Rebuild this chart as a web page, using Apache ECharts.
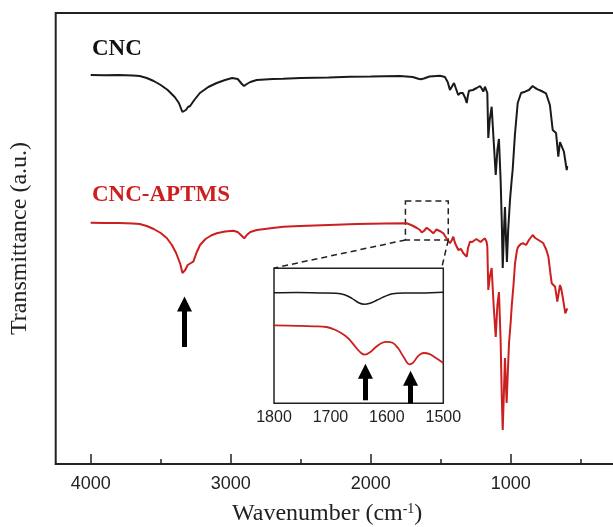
<!DOCTYPE html>
<html><head><meta charset="utf-8">
<script src="https://cdn.jsdelivr.net/npm/echarts@6/dist/echarts.min.js"></script>
<style>html,body{margin:0;padding:0;background:#fff}#c{width:613px;height:527px}</style>
</head><body><div id="c"></div>
<script>
// Main spectra (wavenumber in cm-1, transmittance in arbitrary units)
const cncWn = [4000,3900,3800,3700,3650,3600,3550,3500,3450,3400,3370,3345,3335,3320,3305,3290,3260,3220,3160,3100,3040,2990,2950,2920,2905,2885,2860,2814,2700,2626,2500,2300,2148,2000,1900,1791,1700,1660,1643,1620,1580,1505,1470,1450,1434,1420,1405,1390,1375,1360,1342,1325,1314,1306,1298,1270,1243,1230,1219,1205,1196,1184,1172,1167,1160,1150,1136,1122,1107,1095,1084,1072,1064,1057,1048,1041,1033,1027,1018,1005,993,986,970,950,926,898,870,843,825,807,780,748,720,700,676,660,648,638,620,600,596];
const cncT = [389,388.7,389,388.5,388,386,383,379,374,367,361,352,350,354,357,358,364,371,377,381,384,386,385,380,378,380,382,384,385,385.3,386,386.5,387.3,387.5,387.8,388,387,385.2,384.7,385.5,387.5,388.3,387,382,374,376,381,375,369,371,371,366,361,368,373.3,374,376,376.5,378,375,372.3,377.3,376,371,326,344,357.3,324,289,314,325,284,244,196,234,257,224,202,234,264,284,294,329,361,371,372.3,374,378,376,374.7,373,370.7,359,334,331,307.3,322,322.3,312.3,294,298];
const aptmsWn = [4000,3900,3800,3700,3650,3600,3550,3500,3457,3420,3390,3360,3345,3338,3325,3307,3290,3267,3245,3219,3180,3140,3100,3040,2981,2950,2920,2903,2885,2860,2814,2700,2624,2505,2300,2100,1900,1743,1720,1696,1670,1648,1636,1620,1600,1575,1553,1530,1500,1481,1460,1446,1434,1420,1410,1398,1386,1374,1355,1338,1325,1314,1305,1291,1275,1262,1245,1232,1215,1200,1184,1172,1167,1160,1148,1136,1122,1107,1095,1084,1072,1064,1057,1048,1041,1034,1029,1020,1012,1000,993,980,969,955,946,928,910,890,870,843,825,814,790,767,745,731,715,707,683,667,648,640,629,610,596];
const aptmsT = [241.3,241,241,240.5,240,238,235,231,226,219,211,200,191,189,194,199,200.5,202.3,211,219,225,228.5,230.7,232.5,233.3,232,228,225.7,229,232,234,236,237.3,238,239,240,240.5,240.7,239.5,238,236,234,231.5,233,236.3,233.5,230.7,234.5,232.5,230.7,226,224,220.7,224,227.3,221,219,214,215,210.7,212,207.3,216,222.3,222,221,225,224,222,224,225.7,222,217.3,174,188,196,159,127,159,172,124,69,34,74,106,79,61,94,121,142,157.3,179,200.7,214,217.3,220,220.7,219,224,229,226,224,223,220.7,214,207.3,189,180.7,177.3,162.3,179,176,167.3,150.7,155.7];

// Inset (1800-1500 cm-1)
const insetCncWn = [1800,1760,1720,1690,1675,1662,1650,1640,1630,1618,1605,1590,1570,1540,1500];
const insetCncT = [110.5,110.8,110.4,110,108.5,105,100.5,99,100,103,106.5,109.5,110.3,110.2,111];
const insetApWn = [1800,1760,1730,1707,1690,1675,1665,1655,1645,1639,1630,1620,1610,1600,1590,1580,1570,1560,1553,1545,1535,1525,1515,1500];
const insetApT = [78,77.5,77,76.3,73,68,63,56,50,48.7,51,56,60,61.4,60.5,55,46,39,41,47,50.3,49.5,46,40.3];

// Ticks
const majorTicks = [1000,2000,3000,4000];
const minorTicks = [500,1500,2500,3500];
const insetTicks = [1500,1600,1700,1800];

// Annotations (data coordinates)
const mainArrow = {wn: 3330, from: 117, to: 160};
const insetArrows = [{wn: 1638, from: 3, to: 32}, {wn: 1558, from: 0, to: 25}];
const zoomBox = {wnFrom: 1752, wnTo: 1446, tLow: 224, tHigh: 263};
const connectorEnds = [[2690, 196], [1493, 196]];

const zip = (a, b) => a.map((v, i) => [v, b[i]]);
const BLACK = '#1a1a1a', RED = '#cc1f1f', AX = '#222';
const chart = echarts.init(document.getElementById('c'), null, {renderer: 'canvas'});

chart.setOption({
  animation: false,
  backgroundColor: '#fff',
  grid: [
    {left: 55.7, right: -37.7, top: 13, bottom: 63, show: true, borderColor: AX, borderWidth: 2, outerBoundsMode: 'none', containLabel: false},
    {left: 274, right: 169.7, top: 268.3, bottom: 123.7, show: true, borderColor: AX, borderWidth: 1.5, outerBoundsMode: 'none', containLabel: false}
  ],
  xAxis: [
    {type: 'value', gridIndex: 0, min: 0, max: 4250, inverse: true, interval: 1000,
     axisLine: {show: true, lineStyle: {color: AX, width: 2}},
     axisTick: {show: true, inside: true, length: 10, customValues: majorTicks, lineStyle: {color: AX, width: 1.5}},
     axisLabel: {show: true, customValues: majorTicks, formatter: v => String(v), fontFamily: 'Liberation Sans', fontSize: 18, color: AX, margin: 11},
     splitLine: {show: false},
     name: 'Wavenumber (cm{sup|-1})', nameLocation: 'middle', nameGap: 38,
     nameTextStyle: {fontFamily: 'Liberation Serif', fontSize: 24, color: AX, padding: [0, 52, 0, 0],
       rich: {sup: {fontFamily: 'Liberation Serif', fontSize: 14, color: AX, verticalAlign: 'top', padding: [0, 0, 10, 0]}}}
    },
    {type: 'value', gridIndex: 0, min: 0, max: 4250, inverse: true, interval: 1000, position: 'bottom',
     axisLine: {show: false}, axisLabel: {show: false}, splitLine: {show: false},
     axisTick: {show: true, inside: true, length: 5, customValues: minorTicks, lineStyle: {color: AX, width: 1.5}}
    },
    {type: 'value', gridIndex: 1, min: 1500, max: 1800, inverse: true, interval: 100,
     axisLine: {show: false}, axisTick: {show: false}, splitLine: {show: false},
     axisLabel: {show: true, customValues: insetTicks, formatter: v => String(v), fontFamily: 'Liberation Sans', fontSize: 16, color: AX, margin: 6}
    }
  ],
  yAxis: [
    {type: 'value', gridIndex: 0, min: 0, max: 451,
     axisLine: {show: false}, axisTick: {show: false}, axisLabel: {show: false}, splitLine: {show: false},
     name: 'Transmittance (a.u.)', nameLocation: 'middle', nameGap: 24, nameRotate: 90,
     nameTextStyle: {fontFamily: 'Liberation Serif', fontSize: 24, color: AX}
    },
    {type: 'value', gridIndex: 1, min: 0, max: 135, show: false}
  ],
  series: [
    {type: 'line', name: 'CNC', xAxisIndex: 0, yAxisIndex: 0, data: zip(cncWn, cncT),
     showSymbol: false, lineStyle: {color: BLACK, width: 2}, silent: true,
     markLine: {silent: true, symbol: ['none', 'triangle'], symbolSize: 15, label: {show: false},
       lineStyle: {color: '#000', width: 5, type: 'solid'},
       data: [[{coord: [mainArrow.wn, mainArrow.from]}, {coord: [mainArrow.wn, mainArrow.to]}]]}
    },
    {type: 'line', name: 'CNC-APTMS', xAxisIndex: 0, yAxisIndex: 0, data: zip(aptmsWn, aptmsT),
     showSymbol: false, lineStyle: {color: RED, width: 2}, silent: true,
     markArea: {silent: true, itemStyle: {color: 'rgba(0,0,0,0)', borderColor: AX, borderWidth: 1.5, borderType: [6, 4]},
       data: [[{coord: [zoomBox.wnFrom, zoomBox.tHigh]}, {coord: [zoomBox.wnTo, zoomBox.tLow]}]]},
     markLine: {silent: true, symbol: ['none', 'none'], label: {show: false},
       lineStyle: {color: AX, width: 1.5, type: [6, 4]},
       data: [
         [{coord: [zoomBox.wnFrom, zoomBox.tLow]}, {coord: connectorEnds[0]}],
         [{coord: [zoomBox.wnTo, zoomBox.tLow]}, {coord: connectorEnds[1]}]
       ]}
    },
    {type: 'line', xAxisIndex: 2, yAxisIndex: 1, data: zip(insetCncWn, insetCncT), smooth: 0.4,
     showSymbol: false, lineStyle: {color: BLACK, width: 1.5}, silent: true},
    {type: 'line', xAxisIndex: 2, yAxisIndex: 1, data: zip(insetApWn, insetApT), smooth: 0.4,
     showSymbol: false, lineStyle: {color: RED, width: 1.8}, silent: true,
     markLine: {silent: true, symbol: ['none', 'triangle'], symbolSize: 15, label: {show: false},
       lineStyle: {color: '#000', width: 5, type: 'solid'},
       data: insetArrows.map(a => [{coord: [a.wn, a.from]}, {coord: [a.wn, a.to]}])}
    }
  ],
  graphic: [
    {type: 'text', left: 92, top: 38, style: {text: 'CNC', fill: '#111', font: 'bold 23px "Liberation Serif"'}},
    {type: 'text', left: 92, top: 184, style: {text: 'CNC-APTMS', fill: RED, font: 'bold 23px "Liberation Serif"'}}
  ]
});
</script></body></html>
